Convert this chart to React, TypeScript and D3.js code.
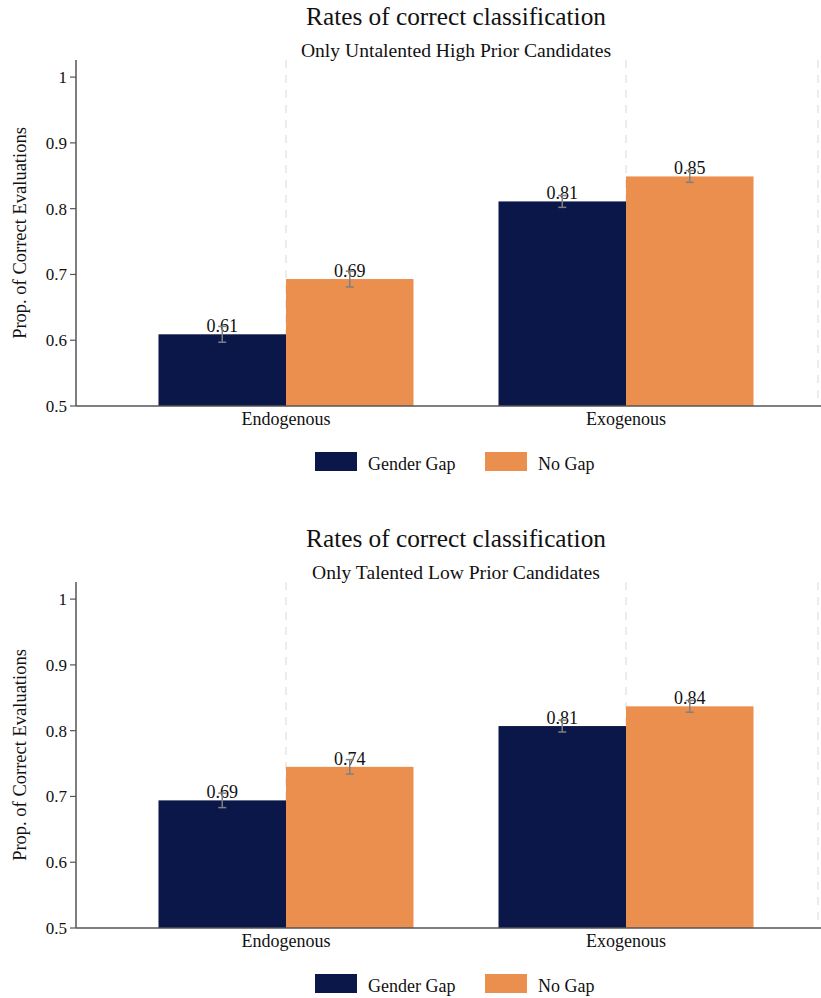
import React from "react";
import * as d3 from "d3";

const categories = ["Endogenous", "Exogenous"];
const seriesNames = ["Gender Gap", "No Gap"];
const seriesColors = ["#0b1748", "#eb8f4f"];
const subtitles = ["Only Untalented High Prior Candidates", "Only Talented Low Prior Candidates"];
const yTicks = [0.5, 0.6, 0.7, 0.8, 0.9, 1];

// panel 1: [category][series]
const values1 = [
  [0.609, 0.693],
  [0.811, 0.849],
];
const errors1 = [
  [0.012, 0.012],
  [0.009, 0.009],
];
const values2 = [
  [0.694, 0.745],
  [0.807, 0.837],
];
const errors2 = [
  [0.011, 0.011],
  [0.009, 0.009],
];

const W = 821;
const H = 998;
const FONT = "'Liberation Serif', 'Times New Roman', serif";

function Panel({ offsetY, subtitle, values, errors }: any) {
  const left = 76;
  const right = 836;
  const top = 60;
  const bottom = 406;
  const x = d3.scaleBand().domain(categories).range([left, right]).paddingInner(0).paddingOuter(0.1176);
  const y = d3.scaleLinear().domain([0.5, 1.026]).range([bottom, top]);
  const groupW = x.bandwidth() * 0.75;
  const xs = d3.scaleBand().domain(seriesNames).range([0, groupW]);
  const gridXs = categories.map((c) => (x(c) as number) + x.bandwidth() / 2).concat([818]);
  const midX = (left + right) / 2;
  return (
    <g transform={`translate(0,${offsetY})`}>
      <text x={midX} y={25} textAnchor="middle" fontSize={25.3} fontFamily={FONT} fill="#111">
        Rates of correct classification
      </text>
      <text x={midX} y={57} textAnchor="middle" fontSize={19.6} fontFamily={FONT} fill="#111">
        {subtitle}
      </text>
      {gridXs.map((gx, i) => (
        <line key={i} x1={gx} x2={gx} y1={top} y2={bottom} stroke="#e6e6e6" strokeWidth={1.5} strokeDasharray="8,7" />
      ))}
      {categories.map((c, ci) =>
        seriesNames.map((s, si) => {
          const cx = (x(c) as number) + x.bandwidth() / 2 - groupW / 2 + (xs(s) as number);
          const v = values[ci][si];
          const e = errors[ci][si];
          const bx = cx + xs.bandwidth() / 2;
          return (
            <g key={c + s}>
              <rect x={cx} y={y(v)} width={xs.bandwidth()} height={bottom - y(v)} fill={seriesColors[si]} />
              <text x={bx} y={y(v) - 2} textAnchor="middle" fontSize={18} fontFamily={FONT} fill="#111">
                {v.toFixed(2)}
              </text>
              <g stroke="#7f7f7f" strokeWidth={1.5}>
                <line x1={bx} x2={bx} y1={y(v + e)} y2={y(v - e)} />
                <line x1={bx - 4} x2={bx + 4} y1={y(v + e)} y2={y(v + e)} />
                <line x1={bx - 4} x2={bx + 4} y1={y(v - e)} y2={y(v - e)} />
              </g>
            </g>
          );
        })
      )}
      <line x1={left} x2={left} y1={top} y2={bottom} stroke="#555" strokeWidth={1.5} />
      <line x1={left} x2={W} y1={bottom} y2={bottom} stroke="#555" strokeWidth={1.5} />
      {yTicks.map((t) => (
        <g key={t}>
          <line x1={left - 6} x2={left} y1={y(t)} y2={y(t)} stroke="#555" strokeWidth={1.2} />
          <text x={left - 9} y={y(t) + 6} textAnchor="end" fontSize={17} fontFamily={FONT} fill="#111">
            {String(t)}
          </text>
        </g>
      ))}
      {categories.map((c) => (
        <text key={c} x={(x(c) as number) + x.bandwidth() / 2} y={425} textAnchor="middle" fontSize={18} fontFamily={FONT} fill="#111">
          {c}
        </text>
      ))}
      <text transform={`translate(26,${(top + bottom) / 2}) rotate(-90)`} textAnchor="middle" fontSize={18.5} fontFamily={FONT} fill="#111">
        Prop. of Correct Evaluations
      </text>
      {seriesNames.map((s, i) => (
        <g key={s} transform={`translate(${315 + i * 170},452)`}>
          <rect x={0} y={0} width={42} height={19} fill={seriesColors[i]} />
          <text x={53} y={18} fontSize={18} fontFamily={FONT} fill="#111">
            {s}
          </text>
        </g>
      ))}
    </g>
  );
}

export default function App() {
  return (
    <svg width={W} height={H} style={{ position: "absolute", left: 0, top: 0, background: "#fff" }}>
      <rect width={W} height={H} fill="#fff" />
      <Panel offsetY={0} subtitle={subtitles[0]} values={values1} errors={errors1} />
      <Panel offsetY={522} subtitle={subtitles[1]} values={values2} errors={errors2} />
    </svg>
  );
}
